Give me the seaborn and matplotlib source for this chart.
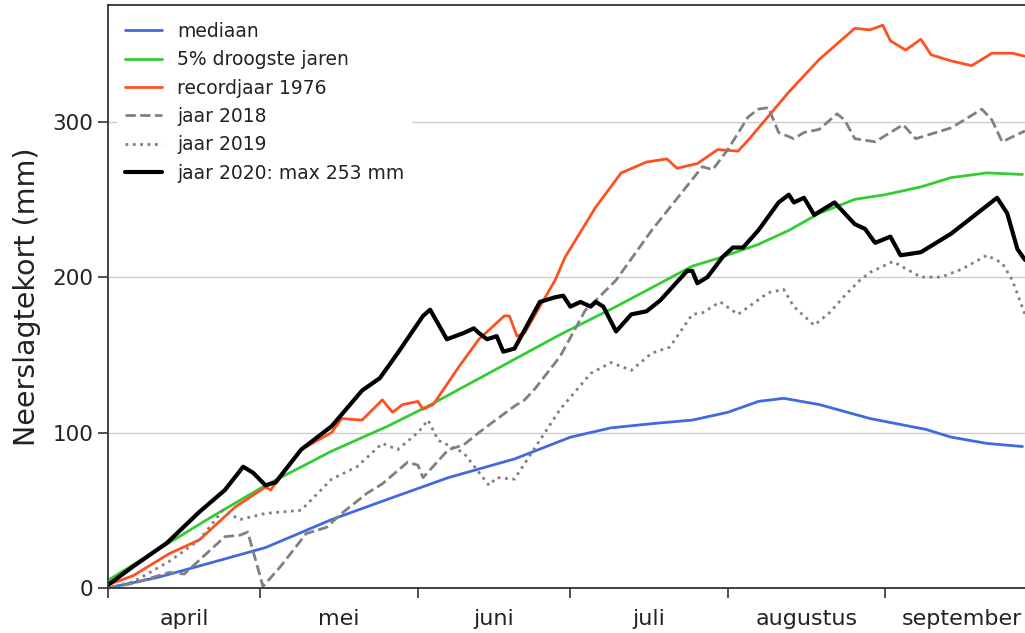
"""
Neerslagtekort (cumulatief) april - september: mediaan, 5% droogste jaren,
recordjaar 1976 en de jaren 2018, 2019 en 2020.
"""

import matplotlib
matplotlib.use("Agg")
import matplotlib.pyplot as plt
import seaborn as sns

sns.set_style("ticks")
plt.rcParams["font.family"] = ["DejaVu Sans"]

dag_mediaan = [0, 10, 20, 31, 44, 55, 67, 80, 91, 99, 108, 115, 122, 128, 133,
               140, 150, 161, 166, 173, 180]
mediaan = [0, 7, 16, 26, 44, 57, 71, 83, 97, 103, 106, 108, 113, 120, 122,
           118, 109, 102, 97, 93, 91]

dag_droog = [0, 10, 20, 31, 44, 55, 63, 76, 89, 100, 115, 120, 128, 134, 140,
             147, 153, 160, 166, 173, 180]
droog = [5, 25, 45, 66, 88, 104, 117, 140, 163, 181, 207, 212, 221, 230, 241,
         250, 253, 258, 264, 267, 266]

dag_1976 = [0, 5, 12, 18, 25, 31, 32, 38, 44, 46, 50, 54, 56, 58, 61, 62, 64,
            69, 73, 78, 79, 80.5, 82, 88, 90, 96, 101, 106, 110, 112, 116, 120,
            124, 126, 134, 140, 147, 150, 152.5, 154, 157, 160, 162, 166, 170,
            174, 178, 180.5]
jaar_1976 = [2, 8, 22, 31, 52, 65, 63, 89, 100, 109, 108, 121, 113, 118, 120,
             115, 118, 142, 160, 175, 175, 162, 164, 198, 213, 245, 267, 274,
             276, 270, 273, 282, 281, 288, 319, 340, 360, 359, 362, 352, 346,
             353, 343, 339, 336, 344, 344, 342]

dag_2018 = [0, 5, 12, 15, 18, 23, 26, 27.5, 30.5, 34, 39, 43, 46, 51, 54, 59,
            61, 62, 67, 70, 73, 80, 82, 84, 89, 94, 96, 100, 107, 117, 119, 122,
            126, 128, 130, 132, 135, 137, 140, 143.5, 145, 147, 151, 156.5, 159,
            163, 166, 172, 174, 176, 180.5]
jaar_2018 = [0, 3, 10, 9, 18, 33, 34, 36, 1, 14, 35, 39, 48, 61, 67, 81, 79,
             71, 89, 92, 100, 117, 121, 128, 149, 179, 185, 198, 230, 271, 269,
             282, 303, 308, 309, 293, 289, 293, 295, 305, 301, 289, 287, 298,
             289, 293, 296, 308, 301, 287, 294]

dag_2019 = [0, 5, 12, 18, 22.6, 26, 31, 38, 44, 49, 54, 57, 61, 63, 65, 70, 75,
            76.5, 80, 85, 89, 95, 99, 103, 107, 110.6, 115, 117, 120.5, 124,
            130, 133, 135, 139, 142, 145, 148, 150, 154.5, 160, 164, 168, 173,
            176, 178, 180.5]
jaar_2019 = [0, 4, 17, 31, 50, 44, 48, 50, 70, 78, 93, 89, 100, 108, 95, 87, 66,
             71, 70, 95, 115, 138, 145, 140, 151, 155, 176, 177, 184, 176, 190,
             192, 181, 169, 177, 188, 198, 203, 210, 200, 200, 205, 214, 209,
             198, 176]

dag_2020 = [0, 5, 11.6, 18, 23, 26.6, 28.6, 31, 33, 38, 44, 50, 53.5, 57, 62,
            63.4, 66.7, 70, 72, 73, 74.6, 76.5, 77.8, 80, 85, 88, 89.6, 91, 93,
            95, 96, 97.5, 100, 103, 106, 108.7, 114, 115, 116, 118, 121, 123,
            125, 128, 132, 134, 135, 137, 139, 143, 145, 147, 149, 151, 154,
            156, 160, 166, 175, 177, 179, 180.5]
jaar_2020 = [2, 14, 29, 49, 63, 78, 74, 66, 68, 89, 104, 127, 135, 151, 175,
             179, 160, 164, 167, 164, 160, 162, 152, 154, 184, 187, 188, 181,
             184, 181, 184, 181, 165, 176, 178, 185, 204, 204, 196, 200, 213,
             219, 219, 230, 248, 253, 248, 251, 240, 248, 241, 234, 231, 222,
             226, 214, 216, 228, 251, 241, 218, 211]

maand_grenzen = [0, 30, 61, 91, 122, 153, 183]
maanden = ["april", "mei", "juni", "juli", "augustus", "september"]

series = [
    (dag_mediaan, mediaan, "mediaan", "#4169e1", "-", 2.0),
    (dag_droog, droog, "5% droogste jaren", "#33cc33", "-", 2.0),
    (dag_1976, jaar_1976, "recordjaar 1976", "#ff5020", "-", 2.0),
    (dag_2018, jaar_2018, "jaar 2018", "#808080", "--", 2.0),
    (dag_2019, jaar_2019, "jaar 2019", "#808080", ":", 2.0),
    (dag_2020, jaar_2020, "jaar 2020: max 253 mm", "black", "-", 3.0),
]

fig = plt.figure(figsize=(10.25, 6.33), dpi=100)
ax = fig.add_axes([0.1054, 0.0711, 0.907, 0.921])

for x, y, label, color, ls, lw in series:
    sns.lineplot(x=x, y=y, ax=ax, color=color, linestyle=ls, linewidth=lw,
                 label=label, sort=False)

ax.set_xlim(0, 183)
ax.set_ylim(0, 375)

# maandgrenzen als ticks, maandnamen in het midden
ax.set_xticks(maand_grenzen)
ax.set_xticklabels([])
midden = [(a + b) / 2 for a, b in zip(maand_grenzen[:-1], maand_grenzen[1:])]
ax.set_xticks(midden, minor=True)
ax.set_xticklabels(maanden, minor=True, fontsize=16, color="#222222")
ax.tick_params(axis="x", which="minor", length=0, pad=15)
ax.tick_params(axis="x", which="major", length=7, width=1.2, color="#333333")

ax.set_yticks([0, 100, 200, 300])
ax.tick_params(axis="y", labelsize=15.5, labelcolor="#222222", length=7,
               width=1.2, color="#333333")
ax.yaxis.grid(True, color="#cccccc", linewidth=1.0)
ax.set_axisbelow(True)

ax.set_xlabel("")
ax.set_ylabel("Neerslagtekort (mm)", fontsize=20.5, color="#222222", labelpad=8)

for side in ["left", "bottom", "top"]:
    ax.spines[side].set_color("#333333")
    ax.spines[side].set_linewidth(1.3)
ax.spines["right"].set_visible(False)

leg = ax.legend(loc="upper left", fontsize=13.5, frameon=True, framealpha=1,
                edgecolor="white", fancybox=False, handlelength=2.0,
                labelcolor="#222222")
leg.get_frame().set_linewidth(0)

plt.savefig("out.png", dpi=100)
plt.close()
